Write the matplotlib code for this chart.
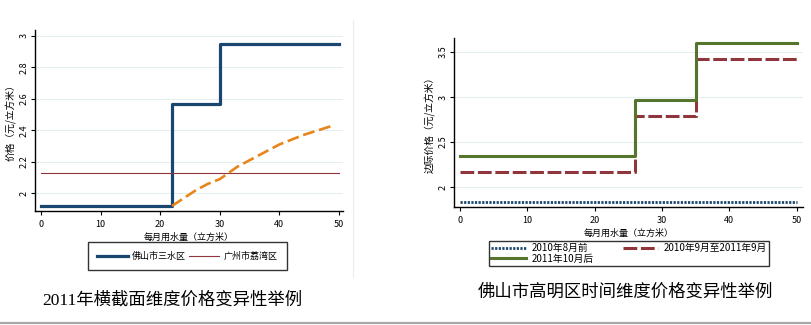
import matplotlib
matplotlib.use('Agg')
from matplotlib import pyplot as plt
from matplotlib.lines import Line2D
import numpy as np

plt.rcParams['font.family'] = ['Noto Sans CJK SC', 'DejaVu Sans']

# left chart: 2011 cross section
sanshui_x = [0, 22, 30, 50]
sanshui_p = [1.92, 2.57, 2.95, 2.95]
liwan_x = [0, 50]
liwan_p = [2.13, 2.13]
avg_x = [22, 24, 26, 28, 30, 33, 36, 40, 44, 49]
avg_p = [1.92, 1.97, 2.02, 2.06, 2.09, 2.17, 2.23, 2.31, 2.37, 2.43]

# right chart: Gaoming over time
gm_x = [0, 26, 35, 50]
gm_before = [1.83, 1.83, 1.83, 1.83]
gm_mid = [2.17, 2.79, 3.42, 3.42]
gm_after = [2.34, 2.97, 3.60, 3.60]

left_labels = ['佛山市三水区', '广州市荔湾区']
right_labels = ['2010年8月前', '2010年9月至2011年9月', '2011年10月后']

W, H = 812, 325
navy = '#1a476f'
maroon = '#90353b'
orange = '#e8851a'
green = '#55752f'
grid_c = '#e6eef0'
title_font = ['Liberation Serif', 'Noto Sans CJK SC']


def px_axes(fig, left, top, right, bottom):
    return fig.add_axes([left / W, 1 - bottom / H, (right - left) / W, (bottom - top) / H])


def stata_style(ax):
    ax.spines['top'].set_visible(False)
    ax.spines['right'].set_visible(False)
    ax.spines['left'].set_linewidth(1.0)
    ax.spines['bottom'].set_linewidth(1.0)
    ax.tick_params(direction='out', length=3, width=0.8, labelsize=6.5, colors='black')
    ax.tick_params(axis='y', pad=1.5)
    for lab in ax.get_yticklabels():
        lab.set_rotation(90)
        lab.set_va('center')
    ax.grid(axis='y', color=grid_c, linewidth=0.8)
    ax.set_axisbelow(True)


fig = plt.figure(figsize=(W / 100, H / 100), dpi=100)

# ---- left ----
ax1 = px_axes(fig, 35, 30, 343, 211)
ax1.step(sanshui_x, sanshui_p, where='post', color=navy, lw=2.3, label=left_labels[0])
ax1.plot(liwan_x, liwan_p, color=maroon, lw=0.8, label=left_labels[1])
ax1.plot(avg_x, avg_p, color=orange, lw=1.9, dashes=(4.5, 1.8))
ax1.set_xlim(-1.0, 50.7)
ax1.set_ylim(1.888, 3.037)
ax1.set_xticks([0, 10, 20, 30, 40, 50])
ax1.set_yticks([2, 2.2, 2.4, 2.6, 2.8, 3])
ax1.set_yticklabels(['2', '2.2', '2.4', '2.6', '2.8', '3'])
stata_style(ax1)
ax1.set_xlabel('每月用水量（立方米）', fontsize=6.5, labelpad=3)
ax1.set_ylabel('价格（元/立方米）', fontsize=7, labelpad=2)
h, l = ax1.get_legend_handles_labels()
ax1.legend(h, l, loc='lower left', bbox_to_anchor=(83 / W, 1 - 275 / H, 209 / W, 31 / H),
           bbox_transform=fig.transFigure, mode='expand', ncol=2, fontsize=6.5,
           frameon=True, fancybox=False, edgecolor='black', borderpad=1.05,
           handlelength=3.4, columnspacing=2.0, handletextpad=0.5)
ax1.get_legend().get_frame().set_linewidth(1.0)

# ---- right ----
ax2 = px_axes(fig, 454, 38, 803, 207)
l_a, = ax2.step(gm_x, gm_before, where='post', color=navy, lw=2.0, dashes=(0.8, 0.5),
                dash_capstyle='butt', label=right_labels[0])
l_b, = ax2.step(gm_x, gm_mid, where='post', color=maroon, lw=2.2, dashes=(4.5, 1.2),
                dash_capstyle='butt', label=right_labels[1])
l_c, = ax2.step(gm_x, gm_after, where='post', color=green, lw=2.2, label=right_labels[2])
ax2.set_xlim(-0.9, 50.95)
ax2.set_ylim(1.778, 3.656)
ax2.set_xticks([0, 10, 20, 30, 40, 50])
ax2.set_yticks([2, 2.5, 3, 3.5])
ax2.set_yticklabels(['2', '2.5', '3', '3.5'])
stata_style(ax2)
ax2.set_xlabel('每月用水量（立方米）', fontsize=6.5, labelpad=3)
ax2.set_ylabel('边际价格（元/立方米）', fontsize=7, labelpad=2)
# column-wise fill: put items so rows read (a, b) then (c)
ax2.legend([l_a, l_c, l_b], [right_labels[0], right_labels[2], right_labels[1]],
           loc='lower left', bbox_to_anchor=(484 / W, 1 - 271 / H, 290 / W, 27 / H),
           bbox_transform=fig.transFigure, mode='expand', ncol=2, fontsize=7,
           frameon=True, fancybox=False, edgecolor='black', borderpad=0.25,
           labelspacing=0.05, handlelength=3.6, columnspacing=2.0, handletextpad=0.6)
ax2.get_legend().get_frame().set_linewidth(1.0)

# captions
fig.text(172 / W, 1 - 300 / H, '2011年横截面维度价格变异性举例', fontsize=12.5,
         family=title_font, ha='center', va='center')
fig.text(625 / W, 1 - 293 / H, '佛山市高明区时间维度价格变异性举例', fontsize=12.5,
         family=title_font, ha='center', va='center')

# separators
fig.add_artist(Line2D([353 / W, 353 / W], [1 - 20 / H, 1 - 277 / H], color='#ececec', lw=0.8))
fig.add_artist(Line2D([0, 1], [1 - 323 / H, 1 - 323 / H], color='#a8a8a8', lw=1.6))

fig.savefig('out.png', dpi=100)
